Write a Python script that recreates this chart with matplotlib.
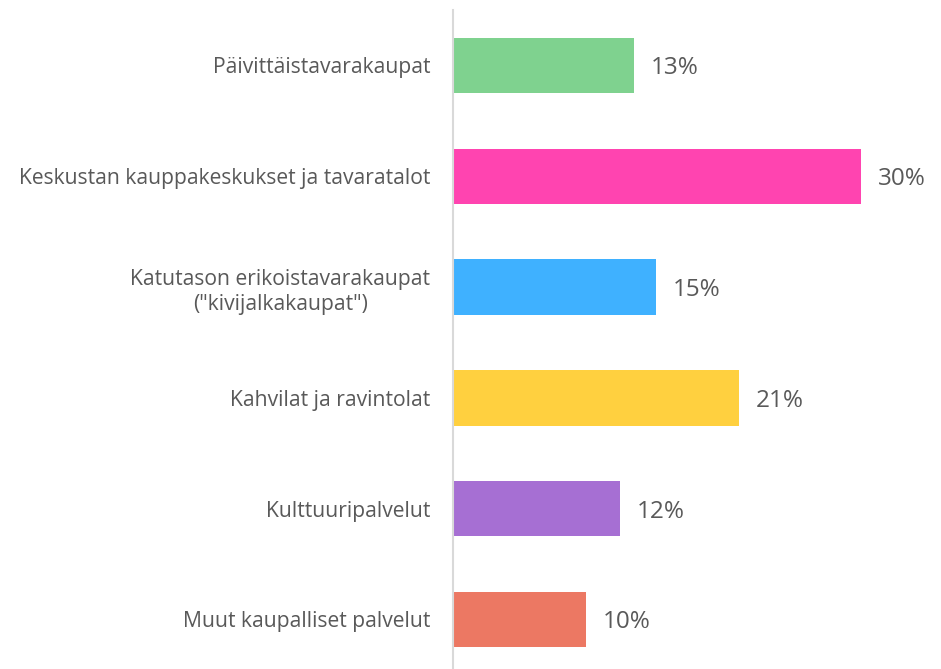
import matplotlib
matplotlib.use("Agg")
import matplotlib.pyplot as plt

categories = [
    "Päivittäistavarakaupat",
    "Keskustan kauppakeskukset ja tavaratalot",
    "Katutason erikoistavarakaupat\n(\"kivijalkakaupat\")",
    "Kahvilat ja ravintolat",
    "Kulttuuripalvelut",
    "Muut kaupalliset palvelut",
]
values = [13.3, 30.0, 14.9, 21.0, 12.3, 9.8]
colors = ["#7fd28f", "#ff44b0", "#3fb1ff", "#ffd03f", "#a66fd3", "#ec7863"]

plt.rcParams['font.family'] = ['Open Sans', 'DejaVu Sans']
W, H = 941, 669
fig = plt.figure(figsize=(W / 100, H / 100), dpi=100)
ax = fig.add_axes([453 / W, 0, (W - 453) / W, (H - 10) / H])

pos = list(range(len(categories)))
ax.barh(pos, values, height=0.5, color=colors)
ax.set_ylim(5.447, -0.5)
ax.set_xlim(0, (W - 453) / 13.6)

for y, v in zip(pos, values):
    ax.text(v + 17 / 13.6, y, f"{v:.0f}%", va="center_baseline", ha="left",
            fontsize=17.5, color="#595959")

ax.set_yticks(pos)
ax.set_yticklabels(categories, fontsize=15.2, color="#595959",
                   multialignment="center", linespacing=1.25)
ax.tick_params(axis="y", length=0, pad=16.5)
ax.set_xticks([])
for s in ["top", "right", "bottom"]:
    ax.spines[s].set_visible(False)
ax.spines["left"].set_color("#d9d9d9")
ax.spines["left"].set_linewidth(1.5)

fig.savefig("out.png", dpi=100)
